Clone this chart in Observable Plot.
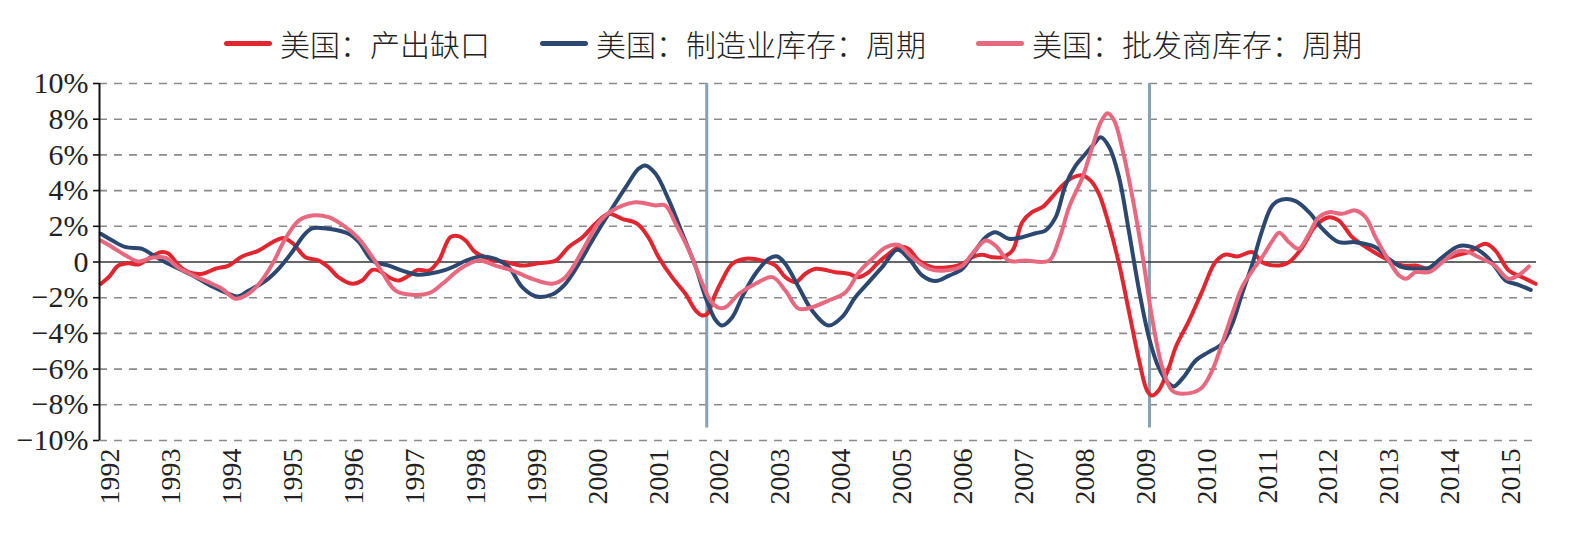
<!DOCTYPE html>
<html>
<head>
<meta charset="utf-8">
<script src="https://cdn.jsdelivr.net/npm/d3@7"></script>
<script src="https://cdn.jsdelivr.net/npm/@observablehq/plot@0.6"></script>
<style>
  html, body { margin: 0; padding: 0; background: #fff; }
  #legend { box-sizing: border-box; height: 66px; padding-top: 20px; display: flex; justify-content: center; align-items: center; font-family: "Noto Sans CJK SC", sans-serif; font-weight: 300; font-size: 30px; color: #222; }
  .item { display: flex; align-items: center; margin: 0 25px; }
  .sw { width: 48px; height: 5px; border-radius: 3px; margin-right: 8px; }
</style>
</head>
<body>
<div id="legend"></div>
<div id="chart"></div>
<script>
const seriesNames = ["美国：产出缺口", "美国：制造业库存：周期", "美国：批发商库存：周期"];
const seriesColors = ["#e1262f", "#2c4770", "#e8697f"];
const yearTicks = d3.range(1992, 2016);
const yTicks = d3.range(-10, 11, 2);
const markerDates = [2001.79, 2009.06];

const redT = [1991.84,1991.97,1992.13,1992.30,1992.46,1992.62,1992.82,1992.95,1993.12,1993.28,1993.51,1993.72,1993.94,1994.16,1994.43,1994.66,1994.84,1995.00,1995.20,1995.42,1995.58,1995.74,1995.97,1996.13,1996.30,1996.43,1996.57,1996.73,1996.90,1997.04,1997.23,1997.39,1997.58,1997.71,1997.83,1997.99,1998.21,1998.49,1998.76,1999.03,1999.31,1999.52,1999.75,1999.96,2000.18,2000.40,2000.65,2000.83,2001.00,2001.22,2001.44,2001.61,2001.72,2001.80,2001.91,2002.04,2002.21,2002.43,2002.70,2002.92,2003.08,2003.25,2003.41,2003.58,2003.90,2004.12,2004.28,2004.45,2004.61,2004.78,2004.94,2005.10,2005.27,2005.49,2005.76,2005.99,2006.15,2006.31,2006.48,2006.64,2006.81,2006.97,2007.13,2007.30,2007.46,2007.63,2007.79,2007.96,2008.09,2008.23,2008.39,2008.56,2008.72,2008.89,2009.02,2009.10,2009.21,2009.38,2009.49,2009.71,2009.93,2010.14,2010.31,2010.50,2010.75,2010.91,2011.13,2011.35,2011.57,2011.79,2012.01,2012.17,2012.39,2012.66,2012.94,2013.21,2013.43,2013.65,2013.87,2014.09,2014.30,2014.58,2014.74,2014.96,2015.18,2015.40];
const redV = [-1.22,-0.85,-0.2,-0.07,-0.14,0.18,0.55,0.47,-0.2,-0.57,-0.66,-0.38,-0.2,0.31,0.64,1.11,1.35,1.02,0.27,0.08,-0.29,-0.85,-1.22,-1.04,-0.44,-0.52,-0.85,-1.04,-0.76,-0.44,-0.48,0.08,1.39,1.45,1.2,0.55,0.18,-0.01,-0.2,-0.07,0.08,0.83,1.39,2.14,2.7,2.42,2.14,1.39,0.27,-0.85,-1.78,-2.72,-3.0,-2.9,-1.97,-1.04,-0.1,0.18,0.08,-0.2,-0.85,-1.13,-0.66,-0.38,-0.57,-0.66,-0.85,-0.57,-0.01,0.46,0.83,0.74,0.08,-0.29,-0.29,-0.1,0.27,0.4,0.27,0.27,0.64,2.23,2.79,3.07,3.63,4.29,4.72,4.85,4.57,3.82,2.14,-0.1,-2.72,-5.52,-7.2,-7.48,-7.2,-5.9,-4.77,-3.28,-1.6,-0.01,0.42,0.31,0.55,-0.01,-0.2,-0.01,0.83,2.04,2.51,2.32,1.39,0.74,0.18,-0.2,-0.2,-0.38,0.08,0.36,0.55,1.02,0.64,-0.48,-0.85,-1.22];

const blueT = [1991.84,1992.03,1992.25,1992.52,1992.71,1992.90,1993.12,1993.40,1993.67,1993.94,1994.08,1994.27,1994.55,1994.76,1994.98,1995.17,1995.31,1995.58,1995.91,1996.08,1996.30,1996.57,1996.79,1997.01,1997.23,1997.50,1997.67,1997.83,1998.08,1998.32,1998.54,1998.76,1998.98,1999.25,1999.47,1999.69,1999.91,2000.18,2000.46,2000.67,2000.78,2000.95,2001.17,2001.39,2001.61,2001.77,2001.94,2002.04,2002.21,2002.37,2002.59,2002.81,2002.95,2003.08,2003.30,2003.52,2003.79,2004.01,2004.23,2004.45,2004.67,2004.92,2005.11,2005.33,2005.55,2005.77,2005.99,2006.20,2006.37,2006.53,2006.75,2006.97,2007.19,2007.35,2007.52,2007.68,2007.85,2008.01,2008.15,2008.26,2008.40,2008.56,2008.72,2008.89,2009.05,2009.21,2009.38,2009.46,2009.62,2009.82,2010.03,2010.25,2010.42,2010.58,2010.75,2010.91,2011.08,2011.24,2011.46,2011.68,2011.90,2012.17,2012.44,2012.77,2012.99,2013.21,2013.48,2013.65,2013.87,2014.14,2014.36,2014.58,2014.74,2014.91,2015.12,2015.32];
const blueV = [1.58,1.2,0.83,0.74,0.36,-0.01,-0.38,-0.85,-1.37,-1.78,-1.93,-1.6,-1.04,-0.38,0.55,1.48,1.89,1.86,1.58,1.11,0.08,-0.2,-0.48,-0.7,-0.66,-0.44,-0.2,0.07,0.31,0.18,-0.29,-1.41,-1.92,-1.82,-1.22,-0.1,1.2,2.7,4.19,5.22,5.41,4.94,3.45,1.58,-0.29,-1.97,-3.28,-3.56,-3.09,-1.97,-0.66,0.18,0.31,-0.1,-1.41,-2.72,-3.56,-3.09,-1.97,-1.13,-0.29,0.68,0.18,-0.76,-1.07,-0.76,-0.38,0.64,1.39,1.67,1.3,1.39,1.61,1.76,2.51,4.29,5.41,6.06,6.62,6.99,6.43,4.75,1.76,-1.6,-4.21,-5.9,-6.82,-6.97,-6.45,-5.52,-5.05,-4.58,-3.46,-1.78,-0.1,1.76,3.17,3.5,3.41,2.79,1.86,1.11,1.11,0.83,0.18,-0.29,-0.38,-0.33,0.27,0.89,0.83,0.36,-0.29,-1.04,-1.28,-1.56];

const pinkT = [1991.84,1992.03,1992.25,1992.46,1992.68,1992.90,1993.12,1993.34,1993.61,1993.83,1994.05,1994.22,1994.44,1994.66,1994.87,1995.09,1995.31,1995.58,1995.86,1996.08,1996.30,1996.46,1996.68,1996.95,1997.23,1997.45,1997.67,1997.83,1998.05,1998.32,1998.60,1998.92,1999.25,1999.47,1999.75,2000.02,2000.24,2000.62,2000.95,2001.11,2001.28,2001.50,2001.72,2001.85,2001.99,2002.10,2002.32,2002.59,2002.87,2003.08,2003.30,2003.52,2003.79,2004.07,2004.29,2004.51,2004.73,2004.94,2005.16,2005.44,2005.71,2005.99,2006.15,2006.37,2006.53,2006.75,2007.02,2007.41,2007.57,2007.74,2007.96,2008.12,2008.26,2008.37,2008.48,2008.62,2008.78,2008.95,2009.10,2009.27,2009.43,2009.60,2009.90,2010.09,2010.25,2010.42,2010.58,2010.75,2010.91,2011.08,2011.19,2011.35,2011.51,2011.68,2011.84,2012.01,2012.22,2012.44,2012.61,2012.77,2012.99,2013.16,2013.27,2013.43,2013.65,2013.87,2014.09,2014.25,2014.47,2014.73,2014.95,2015.11,2015.29];
const pinkV = [1.2,0.83,0.36,0.03,0.24,0.24,-0.33,-0.72,-1.13,-1.5,-2.06,-1.88,-1.22,-0.1,1.3,2.32,2.6,2.51,1.95,1.3,0.27,-0.57,-1.6,-1.84,-1.75,-1.22,-0.57,-0.2,0.08,-0.2,-0.48,-0.94,-1.22,-0.85,0.64,2.23,2.89,3.35,3.17,3.17,2.14,0.64,-1.22,-2.16,-2.57,-2.53,-1.78,-1.22,-0.85,-1.6,-2.62,-2.53,-2.16,-1.69,-0.57,0.18,0.83,0.96,0.27,-0.38,-0.48,-0.2,0.46,1.2,0.92,0.08,0.08,0.08,1.2,3.07,4.75,6.43,7.83,8.34,7.93,6.25,3.63,0.27,-3.09,-5.9,-7.2,-7.38,-7.1,-6.08,-4.58,-2.9,-1.41,-0.48,0.27,1.2,1.64,1.11,0.74,1.58,2.51,2.79,2.7,2.89,2.51,1.39,0.08,-0.76,-0.94,-0.57,-0.57,-0.01,0.55,0.61,0.27,-0.2,-0.94,-0.76,-0.25];

// legend
const legend = document.getElementById("legend");
seriesNames.forEach((name, i) => {
  const item = document.createElement("div");
  item.className = "item";
  const sw = document.createElement("span");
  sw.className = "sw";
  sw.style.background = seriesColors[i];
  const tx = document.createElement("span");
  tx.textContent = name;
  item.appendChild(sw); item.appendChild(tx);
  legend.appendChild(item);
});

const toRows = (T, V, s) => T.map((t, i) => ({t, v: V[i], s}));
const rows = [
  ...toRows(redT, redV, seriesNames[0]),
  ...toRows(blueT, blueV, seriesNames[1]),
  ...toRows(pinkT, pinkV, seriesNames[2])
];

const serif = "'Liberation Serif', 'DejaVu Serif', serif";
const fmtY = d => d === 0 ? "0" : (d < 0 ? "−" : "") + Math.abs(d) + "%";

const chart = Plot.plot({
  width: 1586,
  height: 469,
  marginTop: 17,
  marginBottom: 95,
  marginLeft: 99,
  marginRight: 50,
  style: {fontFamily: serif, background: "#fff", color: "#222", overflow: "visible"},
  x: {domain: [1991.819, 2015.415], axis: null},
  y: {domain: [-10, 10], axis: null},
  color: {domain: seriesNames, range: seriesColors},
  marks: [
    Plot.ruleY(yTicks.filter(d => d !== 0), {stroke: "#8a8a8a", strokeWidth: 1.6, strokeDasharray: "8,7"}),
    Plot.ruleX(markerDates, {y1: 10, y2: -9.3, stroke: "#86a2b8", strokeWidth: 3}),
    Plot.ruleY([0], {stroke: "#333", strokeWidth: 1.6}),
    Plot.line(rows, {x: "t", y: "v", z: "s", stroke: "s", strokeWidth: 4, curve: "catmull-rom"}),
    Plot.ruleX([1991.819], {y1: -10, y2: 10, stroke: "#111", strokeWidth: 2}),
    Plot.axisY(yTicks, {tickFormat: fmtY, tickSize: 6, tickPadding: 5, fontSize: 30, stroke: "#111", strokeWidth: 1.6, label: null, fill: "#222"}),
    Plot.axisX(yearTicks, {tickFormat: d => String(d), tickRotate: -90, tickSize: 0, tickPadding: 8, fontSize: 28, label: null, fill: "#222"})
  ]
});
document.getElementById("chart").appendChild(chart);
</script>
</body>
</html>
